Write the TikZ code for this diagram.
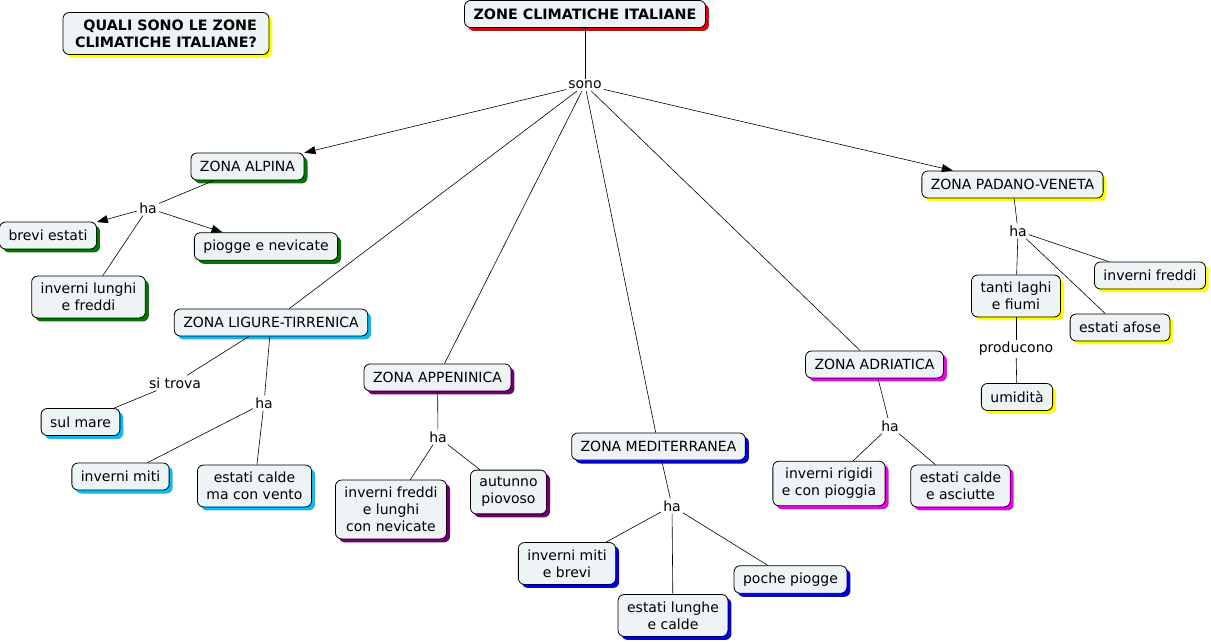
\documentclass[tikz,border=0pt]{standalone}
\usepackage{fontspec}
\setmainfont{DejaVu Sans}
\usetikzlibrary{arrows.meta,shadows}
\definecolor{boxfill}{RGB}{238,243,246}
\definecolor{shgreen}{RGB}{0,120,0}
\definecolor{shred}{RGB}{230,0,0}
\definecolor{shyellow}{RGB}{255,255,0}
\definecolor{shcyan}{RGB}{0,190,250}
\definecolor{shpurple}{RGB}{115,0,115}
\definecolor{shblue}{RGB}{0,0,235}
\definecolor{shmagenta}{RGB}{240,0,240}
\begin{document}
\begin{tikzpicture}[x=1pt,y=-1pt,
  every node/.style={font=\fontsize{14}{17}\selectfont},
  concept/.style={draw=black, line width=0.8pt, fill=boxfill, rounded corners=6pt,
     inner xsep=9pt, inner ysep=7pt, minimum height=27pt, align=center,
     drop shadow={shadow xshift=3.5pt, shadow yshift=-3.5pt, fill=#1, opacity=1}},
  lbl/.style={inner sep=2pt, align=center},
  link/.style={draw=black, line width=0.6pt},
  arr/.style={link, -{Triangle[length=11pt,width=8pt]}},
  boldtxt/.style={font=\fontsize{14.3}{17}\selectfont\bfseries}
]
\useasboundingbox (0,0) rectangle (1211,644);

% concepts
\node[concept=shyellow, boldtxt, align=right, inner xsep=12pt] (q) at (166,33.5) {QUALI SONO LE ZONE\\CLIMATICHE ITALIANE?};
\node[concept=shred, boldtxt] (top) at (585,14) {ZONE CLIMATICHE ITALIANE};
\node[lbl] (sono) at (585,85) {sono};

\node[concept=shgreen] (alpina) at (247.5,166.5) {ZONA ALPINA};
\node[lbl] (ha1) at (148,208) {ha};
\node[concept=shgreen] (brevi) at (48,235.5) {brevi estati};
\node[concept=shgreen] (piogge) at (266,246.5) {piogge e nevicate};
\node[concept=shgreen] (invlung) at (88.5,297) {inverni lunghi\\e freddi};

\node[concept=shcyan] (ligure) at (271,322.5) {ZONA LIGURE-TIRRENICA};
\node[lbl] (sitrova) at (175,383) {si trova};
\node[concept=shcyan] (sulmare) at (80.5,422) {sul mare};
\node[lbl] (ha2) at (264,403) {ha};
\node[concept=shcyan] (invmiti) at (120.5,476.5) {inverni miti};
\node[concept=shcyan] (estcalde) at (254.5,486) {estati calde\\ma con vento};

\node[concept=shpurple] (appen) at (437.5,377.5) {ZONA APPENINICA};
\node[lbl] (ha3) at (438,437) {ha};
\node[concept=shpurple] (invfl) at (391,509.5) {inverni freddi\\e lunghi\\con nevicate};
\node[concept=shpurple] (autunno) at (508.5,492) {autunno\\piovoso};

\node[concept=shblue] (medit) at (658.5,446.5) {ZONA MEDITERRANEA};
\node[lbl] (ha4) at (672,506) {ha};
\node[concept=shblue] (invmb) at (567,563.5) {inverni miti\\e brevi};
\node[concept=shblue] (estlc) at (673,615.5) {estati lunghe\\e calde};
\node[concept=shblue] (poche) at (790.5,579.5) {poche piogge};

\node[concept=shmagenta] (adri) at (874.5,364.5) {ZONA ADRIATICA};
\node[lbl] (ha5) at (890,426) {ha};
\node[concept=shmagenta] (invrig) at (829,483.5) {inverni rigidi\\e con pioggia};
\node[concept=shmagenta] (estasc) at (960.5,486) {estati calde\\e asciutte};

\node[concept=shyellow] (padano) at (1012.5,184.5) {ZONA PADANO-VENETA};
\node[lbl] (ha6) at (1018,231) {ha};
\node[concept=shyellow] (invfred) at (1150,275.5) {inverni freddi};
\node[concept=shyellow] (tanti) at (1016,296) {tanti laghi\\e fiumi};
\node[concept=shyellow] (afose) at (1120,327.5) {estati afose};
\node[lbl] (prod) at (1016,349) {producono};
\node[concept=shyellow] (umid) at (1017,397) {umidità};

% connectors
\draw[link] (top) -- (sono);
\draw[arr] (sono) -- (alpina);
\draw[arr] (sono) -- (padano);
\draw[link] (sono) -- (ligure);
\draw[link] (sono) -- (appen);
\draw[link] (sono) -- (medit);
\draw[link] (sono) -- (adri);

\draw[link] (alpina) -- (ha1);
\draw[arr] (ha1) -- (brevi);
\draw[arr] (ha1) -- (piogge);
\draw[link] (ha1) -- (invlung);

\draw[link] (ligure) -- (sitrova);
\draw[link] (sitrova) -- (sulmare);
\draw[link] (ligure) -- (ha2);
\draw[link] (ha2) -- (invmiti);
\draw[link] (ha2) -- (estcalde);

\draw[link] (appen) -- (ha3);
\draw[link] (ha3) -- (invfl);
\draw[link] (ha3) -- (autunno);

\draw[link] (medit) -- (ha4);
\draw[link] (ha4) -- (invmb);
\draw[link] (ha4) -- (estlc);
\draw[link] (ha4) -- (poche);

\draw[link] (adri) -- (ha5);
\draw[link] (ha5) -- (invrig);
\draw[link] (ha5) -- (estasc);

\draw[link] (padano) -- (ha6);
\draw[link] (ha6) -- (invfred);
\draw[link] (ha6) -- (tanti);
\draw[link] (ha6) -- (afose);
\draw[link] (tanti) -- (prod);
\draw[link] (prod) -- (umid);
\end{tikzpicture}
\end{document}
